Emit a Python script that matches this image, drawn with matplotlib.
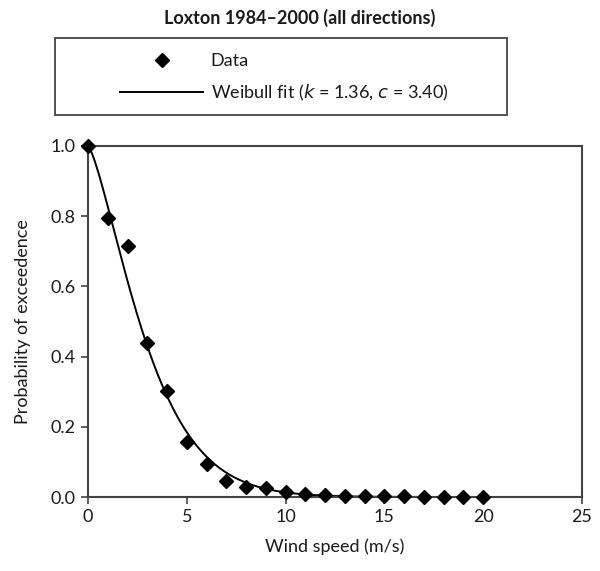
import matplotlib
matplotlib.use('Agg')
import matplotlib.pyplot as plt
from matplotlib.patches import Rectangle
import numpy as np

W, H, DPI = 600, 571, 100
plt.rcParams['font.family'] = ['Lato', 'DejaVu Sans']

# ── data ─────────────────────────────────────────────────────────────────────
wind_speed = [0, 1, 2, 3, 4, 5, 6, 7, 8, 9, 10,
              11, 12, 13, 14, 15, 16, 17, 18, 19, 20]
p_exceed = [1.0, 0.795, 0.716, 0.44, 0.303, 0.158, 0.094, 0.046, 0.029, 0.025, 0.013,
            0.008, 0.006, 0.004, 0.003, 0.002, 0.002, 0.001, 0.001, 0.001, 0.001]
k_shape = 1.36
c_scale = 3.40

# fit curve from the stated Weibull parameters
v_fit = np.linspace(0, 20, 400)
p_fit = np.exp(-(v_fit / c_scale) ** k_shape)

fig = plt.figure(figsize=(W/DPI, H/DPI), dpi=DPI)
ax = fig.add_axes([88/W, 1 - 497/H, (582-88)/W, (497-146)/H])

ax.plot(v_fit, p_fit, color='black', lw=1.4, zorder=2, label='Weibull fit ($k$ = 1.36, $c$ = 3.40)')
ax.plot(wind_speed, p_exceed, ls='none', marker='D', ms=7.5, color='black',
        zorder=3, clip_on=False, label='Data')

ax.set_xlim(0, 25)
ax.set_ylim(0, 1.0)
ax.set_xticks([0, 5, 10, 15, 20, 25])
ax.set_yticks([0, 0.2, 0.4, 0.6, 0.8, 1.0])
ax.set_yticklabels(['0.0', '0.2', '0.4', '0.6', '0.8', '1.0'])
ax.tick_params(direction='out', length=5, width=1.2, color='#444444',
               labelsize=13, pad=4, labelcolor='#1a1a1a')
for s in ax.spines.values():
    s.set_linewidth(1.5)
    s.set_color('#444444')

ax.set_xlabel('Wind speed (m/s)', fontsize=13, color='#1a1a1a', labelpad=9)
ax.set_ylabel('Probability of exceedence', fontsize=13, color='#1a1a1a', labelpad=14)

fig.text(0.5, 1 - 18/H, 'Loxton 1984\u20132000 (all directions)', ha='center', va='center',
         fontsize=13, fontweight='bold', color='#1a1a1a')

# legend box
fig.patches.append(Rectangle((55/W, 1 - 115/H), 452/W, 77/H, transform=fig.transFigure,
                             fc='white', ec='#444444', lw=1.3))
h, l = ax.get_legend_handles_labels()
fig.legend([h[1], h[0]], [l[1], l[0]], loc='upper left',
           bbox_to_anchor=(104/W, 1 - 37/H), frameon=False, fontsize=13,
           handlelength=4.6, handletextpad=0.4, labelspacing=0.75, labelcolor='#1a1a1a')

fig.savefig('out.png', dpi=DPI, facecolor='white')
